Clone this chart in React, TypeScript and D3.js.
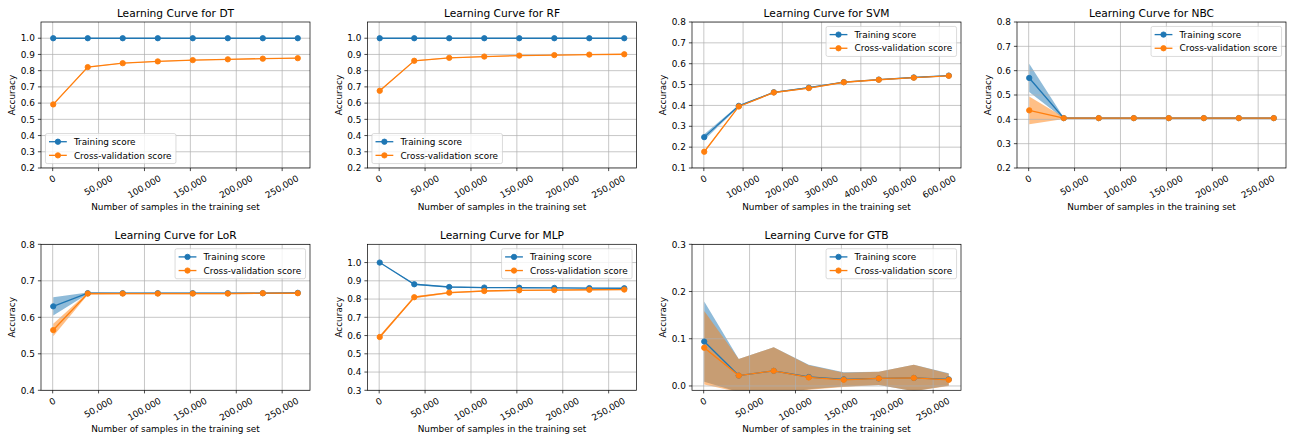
import React from "react";
import * as d3 from "d3";

const FONT = "DejaVu Sans, sans-serif";
const FS = 8.89;
const TFS = 10.67;
const BLUE = "#1f77b4";
const ORANGE = "#ff7f0e";

// training set sizes (x values)
const sizesSmall = [600, 38200, 76300, 114500, 152600, 190800, 228900, 267000];
const sizesSvm = [1000, 89100, 178300, 267400, 356600, 445700, 534900, 624000];

// x tick values
const xTicksSmall = [0, 50000, 100000, 150000, 200000, 250000];
const xTicksSvm = [0, 100000, 200000, 300000, 400000, 500000, 600000];

// y tick values
const yTicksDT = [0.2, 0.3, 0.4, 0.5, 0.6, 0.7, 0.8, 0.9, 1.0];
const yTicksSVM = [0.1, 0.2, 0.3, 0.4, 0.5, 0.6, 0.7, 0.8];
const yTicksNBC = [0.2, 0.3, 0.4, 0.5, 0.6, 0.7, 0.8];
const yTicksLoR = [0.4, 0.5, 0.6, 0.7, 0.8];
const yTicksMLP = [0.3, 0.4, 0.5, 0.6, 0.7, 0.8, 0.9, 1.0];
const yTicksGTB = [0.0, 0.1, 0.2, 0.3];

// DT
const dtTrainMean = [1.0, 1.0, 1.0, 1.0, 1.0, 1.0, 1.0, 1.0];
const dtTrainStd = [0, 0, 0, 0, 0, 0, 0, 0];
const dtCvMean = [0.592, 0.822, 0.846, 0.857, 0.865, 0.87, 0.874, 0.877];
const dtCvStd = [0.004, 0.003, 0.002, 0.002, 0.002, 0.002, 0.002, 0.002];
// RF
const rfTrainMean = [1.0, 1.0, 1.0, 1.0, 1.0, 1.0, 1.0, 1.0];
const rfTrainStd = [0, 0, 0, 0, 0, 0, 0, 0];
const rfCvMean = [0.676, 0.861, 0.879, 0.887, 0.893, 0.896, 0.899, 0.901];
const rfCvStd = [0.004, 0.003, 0.002, 0.002, 0.002, 0.002, 0.002, 0.002];
// SVM
const svmTrainMean = [0.248, 0.398, 0.463, 0.485, 0.512, 0.524, 0.534, 0.543];
const svmTrainStd = [0.014, 0.004, 0.003, 0.003, 0.002, 0.002, 0.002, 0.002];
const svmCvMean = [0.178, 0.395, 0.462, 0.483, 0.511, 0.523, 0.533, 0.542];
const svmCvStd = [0.004, 0.003, 0.003, 0.003, 0.002, 0.002, 0.002, 0.002];
// NBC
const nbcTrainMean = [0.57, 0.405, 0.405, 0.405, 0.405, 0.405, 0.405, 0.405];
const nbcTrainStd = [0.058, 0.003, 0.002, 0.002, 0.002, 0.002, 0.002, 0.002];
const nbcCvMean = [0.437, 0.405, 0.405, 0.405, 0.405, 0.405, 0.405, 0.405];
const nbcCvStd = [0.057, 0.004, 0.004, 0.004, 0.004, 0.004, 0.004, 0.004];
// LoR
const lorTrainMean = [0.63, 0.666, 0.666, 0.666, 0.666, 0.666, 0.666, 0.667];
const lorTrainStd = [0.025, 0.002, 0.001, 0.001, 0.001, 0.001, 0.001, 0.001];
const lorCvMean = [0.565, 0.665, 0.665, 0.665, 0.665, 0.665, 0.666, 0.666];
const lorCvStd = [0.017, 0.003, 0.002, 0.002, 0.002, 0.002, 0.002, 0.002];
// MLP
const mlpTrainMean = [1.0, 0.881, 0.866, 0.863, 0.862, 0.861, 0.86, 0.859];
const mlpTrainStd = [0.0, 0.004, 0.003, 0.003, 0.002, 0.002, 0.002, 0.002];
const mlpCvMean = [0.592, 0.81, 0.835, 0.844, 0.848, 0.849, 0.851, 0.852];
const mlpCvStd = [0.008, 0.005, 0.004, 0.003, 0.003, 0.003, 0.003, 0.003];
// GTB
const gtbTrainMean = [0.094, 0.022, 0.032, 0.019, 0.014, 0.016, 0.017, 0.014];
const gtbTrainStd = [0.085, 0.035, 0.05, 0.026, 0.015, 0.014, 0.028, 0.013];
const gtbCvMean = [0.081, 0.022, 0.032, 0.018, 0.013, 0.016, 0.017, 0.013];
const gtbCvStd = [0.078, 0.035, 0.05, 0.026, 0.015, 0.014, 0.028, 0.013];

const colLefts = [41, 367.5, 692, 1017];
const axW = 269;
const rowTops = [22, 244.3];
const axH = 146;

type Panel = {
  title: string;
  sizes: number[];
  xTicks: number[];
  yDomain: [number, number];
  yTicks: number[];
  trainMean: number[];
  trainStd: number[];
  cvMean: number[];
  cvStd: number[];
  legend: "ll" | "ur";
  row: number;
  col: number;
};

const panels: Panel[] = [
  { title: "DT", sizes: sizesSmall, xTicks: xTicksSmall, yDomain: [0.2, 1.1], yTicks: yTicksDT, trainMean: dtTrainMean, trainStd: dtTrainStd, cvMean: dtCvMean, cvStd: dtCvStd, legend: "ll", row: 0, col: 0 },
  { title: "RF", sizes: sizesSmall, xTicks: xTicksSmall, yDomain: [0.2, 1.1], yTicks: yTicksDT, trainMean: rfTrainMean, trainStd: rfTrainStd, cvMean: rfCvMean, cvStd: rfCvStd, legend: "ll", row: 0, col: 1 },
  { title: "SVM", sizes: sizesSvm, xTicks: xTicksSvm, yDomain: [0.1, 0.8], yTicks: yTicksSVM, trainMean: svmTrainMean, trainStd: svmTrainStd, cvMean: svmCvMean, cvStd: svmCvStd, legend: "ur", row: 0, col: 2 },
  { title: "NBC", sizes: sizesSmall, xTicks: xTicksSmall, yDomain: [0.2, 0.8], yTicks: yTicksNBC, trainMean: nbcTrainMean, trainStd: nbcTrainStd, cvMean: nbcCvMean, cvStd: nbcCvStd, legend: "ur", row: 0, col: 3 },
  { title: "LoR", sizes: sizesSmall, xTicks: xTicksSmall, yDomain: [0.4, 0.8], yTicks: yTicksLoR, trainMean: lorTrainMean, trainStd: lorTrainStd, cvMean: lorCvMean, cvStd: lorCvStd, legend: "ur", row: 1, col: 0 },
  { title: "MLP", sizes: sizesSmall, xTicks: xTicksSmall, yDomain: [0.3, 1.1], yTicks: yTicksMLP, trainMean: mlpTrainMean, trainStd: mlpTrainStd, cvMean: mlpCvMean, cvStd: mlpCvStd, legend: "ur", row: 1, col: 1 },
  { title: "GTB", sizes: sizesSmall, xTicks: xTicksSmall, yDomain: [-0.0092, 0.3], yTicks: yTicksGTB, trainMean: gtbTrainMean, trainStd: gtbTrainStd, cvMean: gtbCvMean, cvStd: gtbCvStd, legend: "ur", row: 1, col: 2 },
];

const fmtX = d3.format(",");
const fmtY = d3.format(".1f");

const CHAR_W: Record<string, number> = { "0": 0.636, "1": 0.636, "2": 0.636, "3": 0.636, "4": 0.636, "5": 0.636, "6": 0.636, "7": 0.636, "8": 0.636, "9": 0.636, ",": 0.318 };
const textW = (s: string, fs: number) => s.split("").reduce((a, c) => a + (CHAR_W[c] ?? 0.6), 0) * fs;

const TICK = 3.1;
const PAD = 3.1;
const ROT = 30;

function Axes({ p, idx }: { p: Panel; idx: number }) {
  const left = colLefts[p.col];
  const top = rowTops[p.row];
  const right = left + axW;
  const bottom = top + axH;
  const n = p.sizes.length;
  const xMin = p.sizes[0];
  const xMax = p.sizes[n - 1];
  const m = (xMax - xMin) * 0.05;
  const x = d3.scaleLinear().domain([xMin - m, xMax + m]).range([left, right]);
  const y = d3.scaleLinear().domain(p.yDomain).range([bottom, top]);
  const idxs = d3.range(n);
  const area = (mean: number[], std: number[]) =>
    d3.area<number>().x((i) => x(p.sizes[i])).y0((i) => y(mean[i] - std[i])).y1((i) => y(mean[i] + std[i]))(idxs) || "";
  const line = (mean: number[]) => d3.line<number>().x((i) => x(p.sizes[i])).y((i) => y(mean[i]))(idxs) || "";
  const clipId = `clip${idx}`;
  const hText = 0.97 * FS;
  const sin = Math.sin((ROT * Math.PI) / 180);
  const cos = Math.cos((ROT * Math.PI) / 180);

  // legend
  const legW = 130.5;
  const legH = 30;
  const bap = 0.5 * FS;
  const legX = p.legend === "ur" ? right - bap - legW : left + bap;
  const legY = p.legend === "ur" ? top + bap : bottom - bap - legH;
  const rows = [
    { label: "Training score", color: BLUE },
    { label: "Cross-validation score", color: ORANGE },
  ];

  return (
    <g>
      <defs>
        <clipPath id={clipId}>
          <rect x={left} y={top} width={axW} height={axH} />
        </clipPath>
      </defs>
      <rect x={left} y={top} width={axW} height={axH} fill="#fff" />
      <g clipPath={`url(#${clipId})`}>
        <path d={area(p.trainMean, p.trainStd)} fill={BLUE} fillOpacity={0.5} />
        <path d={area(p.cvMean, p.cvStd)} fill={ORANGE} fillOpacity={0.5} />
        {p.xTicks.map((t) => (
          <line key={"gx" + t} x1={x(t)} x2={x(t)} y1={top} y2={bottom} stroke="#b0b0b0" strokeWidth={0.71} />
        ))}
        {p.yTicks.map((t) => (
          <line key={"gy" + t} x1={left} x2={right} y1={y(t)} y2={y(t)} stroke="#b0b0b0" strokeWidth={0.71} />
        ))}
        <path d={line(p.trainMean)} fill="none" stroke={BLUE} strokeWidth={1.33} />
        {idxs.map((i) => (
          <circle key={"tm" + i} cx={x(p.sizes[i])} cy={y(p.trainMean[i])} r={2.67} fill={BLUE} stroke={BLUE} strokeWidth={0.89} />
        ))}
        <path d={line(p.cvMean)} fill="none" stroke={ORANGE} strokeWidth={1.33} />
        {idxs.map((i) => (
          <circle key={"cm" + i} cx={x(p.sizes[i])} cy={y(p.cvMean[i])} r={2.67} fill={ORANGE} stroke={ORANGE} strokeWidth={0.89} />
        ))}
      </g>
      <rect x={left} y={top} width={axW} height={axH} fill="none" stroke="#000" strokeWidth={0.71} />
      {/* x ticks */}
      {p.xTicks.map((t) => {
        const label = fmtX(t);
        const w = textW(label, FS);
        const H = w * sin + hText * cos;
        const cy = bottom + TICK + PAD + H / 2;
        return (
          <g key={"xt" + t}>
            <line x1={x(t)} x2={x(t)} y1={bottom} y2={bottom + TICK} stroke="#000" strokeWidth={0.71} />
            <text transform={`translate(${x(t)},${cy}) rotate(${-ROT})`} y={0.3 * FS} textAnchor="middle" fontSize={FS} fontFamily={FONT} fill="#000">
              {label}
            </text>
          </g>
        );
      })}
      {/* y ticks */}
      {p.yTicks.map((t) => (
        <g key={"yt" + t}>
          <line x1={left - TICK} x2={left} y1={y(t)} y2={y(t)} stroke="#000" strokeWidth={0.71} />
          <text x={left - TICK - PAD} y={y(t) + 3.2} textAnchor="end" fontSize={FS} fontFamily={FONT} fill="#000">
            {fmtY(t)}
          </text>
        </g>
      ))}
      <text x={(left + right) / 2} y={top - 5.33} textAnchor="middle" fontSize={TFS} fontFamily={FONT} fill="#000">
        {"Learning Curve for " + p.title}
      </text>
      <text x={(left + right) / 2} y={bottom + 41.5} textAnchor="middle" fontSize={FS} fontFamily={FONT} fill="#000">
        Number of samples in the training set
      </text>
      <text transform={`translate(${left - 29},${(top + bottom) / 2}) rotate(-90)`} y={3.2} textAnchor="middle" fontSize={FS} fontFamily={FONT} fill="#000">
        Accuracy
      </text>
      {/* legend */}
      <g>
        <rect x={legX} y={legY} width={legW} height={legH} rx={1.8} fill="#fff" fillOpacity={0.8} stroke="#cccccc" strokeOpacity={0.8} strokeWidth={0.89} />
        {rows.map((r, i) => {
          const cy = legY + 3.56 + 4.6 + i * (9.2 + 4.45);
          const hx0 = legX + 3.56;
          const hx1 = hx0 + 17.8;
          return (
            <g key={r.label}>
              <line x1={hx0} x2={hx1} y1={cy} y2={cy} stroke={r.color} strokeWidth={1.33} />
              <circle cx={(hx0 + hx1) / 2} cy={cy} r={2.67} fill={r.color} stroke={r.color} strokeWidth={0.89} />
              <text x={hx1 + 7.1} y={cy + 3.2} fontSize={FS} fontFamily={FONT} fill="#000">
                {r.label}
              </text>
            </g>
          );
        })}
      </g>
    </g>
  );
}

export default function App() {
  return (
    <svg width={1293} height={440} style={{ display: "block", position: "absolute", left: 0, top: 0, background: "#fff" }}>
      <rect x={0} y={0} width={1293} height={440} fill="#fff" />
      {panels.map((p, i) => (
        <Axes key={p.title} p={p} idx={i} />
      ))}
    </svg>
  );
}
